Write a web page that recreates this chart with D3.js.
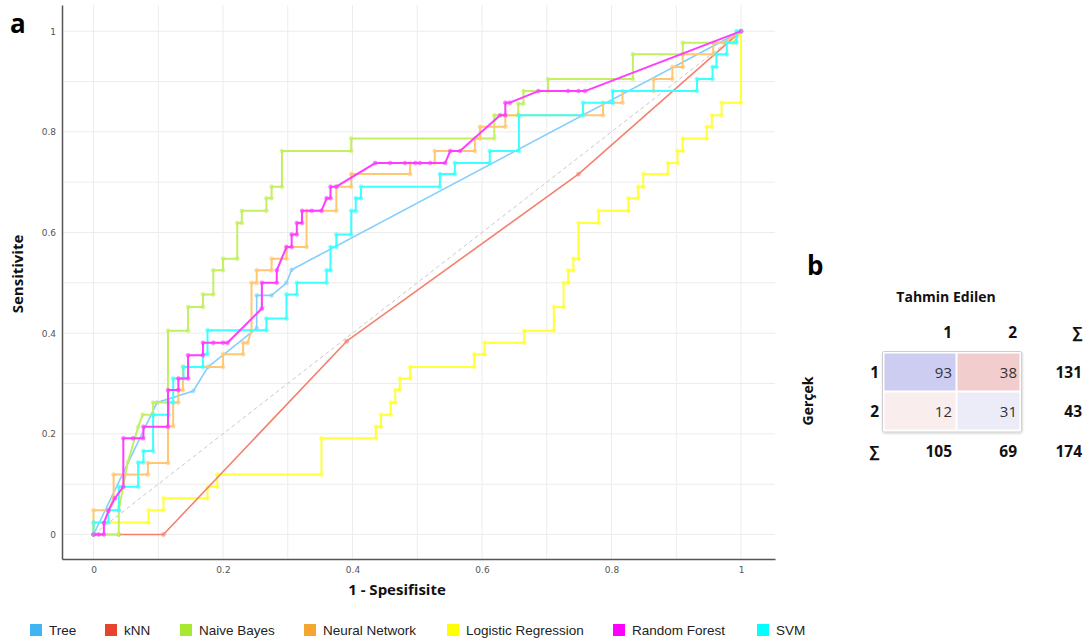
<!DOCTYPE html>
<html>
<head>
<meta charset="utf-8">
<script src="https://cdn.jsdelivr.net/npm/d3@7"></script>
<style>
  body { margin: 0; background: #ffffff; }
  svg { display: block; }
</style>
</head>
<body>
<svg id="chart" width="1089" height="644"></svg>
<script>
// ROC curves, [1 - specificity, sensitivity] per model
const treeRoc = [[0,0],[0.098,0.262],[0.154,0.285],[0.177,0.333],[0.252,0.41],[0.252,0.475],[0.275,0.475],[0.298,0.5],[0.306,0.526],[1,1]];

const knnRoc = [[0,0],[0.039,0],[0.108,0],[0.391,0.384],[0.749,0.716],[1,1]];

const naiveBayesRoc = [[0,0],[0.039,0],[0.039,0.048],[0.053,0.144],[0.069,0.214],[0.076,0.238],[0.092,0.238],[0.092,0.262],
  [0.115,0.262],[0.115,0.405],[0.146,0.405],[0.146,0.452],[0.169,0.452],[0.169,0.477],[0.185,0.477],[0.185,0.525],
  [0.2,0.525],[0.2,0.548],[0.222,0.548],[0.222,0.619],[0.229,0.619],[0.229,0.643],[0.267,0.643],[0.267,0.668],
  [0.275,0.668],[0.275,0.691],[0.291,0.691],[0.291,0.762],[0.398,0.762],[0.398,0.787],[0.619,0.787],[0.619,0.833],
  [0.656,0.833],[0.656,0.856],[0.664,0.856],[0.664,0.881],[0.702,0.881],[0.702,0.905],[0.833,0.905],[0.833,0.954],
  [0.91,0.954],[0.91,0.977],[0.988,0.977],[1,1]];

const neuralNetRoc = [[0,0],[0,0.048],[0.023,0.048],[0.031,0.072],[0.031,0.119],[0.084,0.119],[0.084,0.142],[0.115,0.142],
  [0.115,0.215],[0.123,0.215],[0.123,0.262],[0.131,0.262],[0.131,0.287],[0.138,0.287],[0.138,0.333],[0.2,0.333],
  [0.2,0.358],[0.231,0.358],[0.231,0.381],[0.238,0.381],[0.244,0.405],[0.244,0.5],[0.252,0.5],[0.252,0.525],
  [0.275,0.525],[0.275,0.548],[0.298,0.548],[0.298,0.571],[0.329,0.571],[0.329,0.643],[0.375,0.643],[0.375,0.691],
  [0.398,0.691],[0.398,0.716],[0.489,0.716],[0.489,0.738],[0.527,0.738],[0.527,0.762],[0.589,0.762],[0.589,0.787],
  [0.597,0.787],[0.597,0.81],[0.636,0.81],[0.636,0.833],[0.787,0.833],[0.787,0.858],[0.817,0.858],[0.817,0.881],
  [0.865,0.881],[0.865,0.905],[0.894,0.905],[0.894,0.929],[0.91,0.929],[0.91,0.954],[0.957,0.954],[0.957,0.977],
  [0.973,0.977],[1,1]];

const logisticRoc = [[0,0],[0,0.024],[0.085,0.024],[0.085,0.048],[0.108,0.048],[0.108,0.072],[0.176,0.072],[0.176,0.095],
  [0.191,0.095],[0.191,0.119],[0.352,0.119],[0.352,0.191],[0.436,0.191],[0.436,0.214],[0.444,0.214],[0.444,0.238],
  [0.459,0.238],[0.459,0.262],[0.466,0.262],[0.466,0.287],[0.473,0.287],[0.473,0.31],[0.489,0.31],[0.489,0.333],
  [0.588,0.333],[0.588,0.358],[0.604,0.358],[0.604,0.381],[0.665,0.381],[0.665,0.405],[0.711,0.405],[0.711,0.452],
  [0.726,0.452],[0.726,0.5],[0.733,0.5],[0.733,0.525],[0.741,0.525],[0.741,0.548],[0.749,0.548],[0.749,0.619],
  [0.78,0.619],[0.78,0.643],[0.826,0.643],[0.826,0.668],[0.841,0.668],[0.841,0.691],[0.849,0.691],[0.849,0.716],
  [0.887,0.716],[0.887,0.738],[0.902,0.738],[0.902,0.762],[0.91,0.762],[0.91,0.787],[0.947,0.787],[0.947,0.81],
  [0.955,0.81],[0.955,0.833],[0.97,0.833],[0.97,0.858],[1,0.858],[1,1]];

const randomForestRoc = [[0,0],[0.008,0],[0.016,0],[0.016,0.023],[0.023,0.047],[0.033,0.072],[0.046,0.095],[0.046,0.191],
  [0.061,0.191],[0.077,0.191],[0.077,0.214],[0.115,0.214],[0.115,0.287],[0.131,0.287],[0.131,0.31],[0.146,0.31],
  [0.146,0.356],[0.169,0.356],[0.169,0.381],[0.185,0.381],[0.2,0.381],[0.207,0.381],[0.26,0.449],[0.26,0.5],
  [0.283,0.5],[0.283,0.525],[0.298,0.571],[0.306,0.571],[0.306,0.596],[0.314,0.596],[0.314,0.619],[0.322,0.619],
  [0.322,0.643],[0.337,0.643],[0.352,0.643],[0.36,0.668],[0.366,0.668],[0.366,0.691],[0.375,0.691],[0.435,0.738],
  [0.458,0.738],[0.481,0.738],[0.497,0.738],[0.504,0.738],[0.52,0.738],[0.543,0.738],[0.551,0.762],[0.566,0.762],
  [0.628,0.833],[0.636,0.833],[0.636,0.858],[0.643,0.858],[0.687,0.881],[0.733,0.881],[0.749,0.881],[0.759,0.881],[1,1]];

const svmRoc = [[0,0],[0,0.024],[0.023,0.024],[0.023,0.048],[0.039,0.048],[0.039,0.095],[0.069,0.095],[0.069,0.143],
  [0.077,0.143],[0.077,0.166],[0.092,0.166],[0.092,0.238],[0.116,0.238],[0.116,0.262],[0.123,0.262],[0.123,0.31],
  [0.139,0.31],[0.139,0.333],[0.169,0.333],[0.169,0.358],[0.176,0.358],[0.176,0.406],[0.267,0.406],[0.267,0.429],
  [0.298,0.429],[0.298,0.477],[0.314,0.477],[0.314,0.5],[0.36,0.5],[0.36,0.525],[0.366,0.525],[0.366,0.571],
  [0.375,0.571],[0.375,0.596],[0.398,0.596],[0.398,0.643],[0.405,0.643],[0.405,0.668],[0.413,0.668],[0.413,0.691],
  [0.535,0.691],[0.535,0.716],[0.558,0.716],[0.558,0.738],[0.612,0.738],[0.612,0.762],[0.657,0.762],[0.657,0.833],
  [0.756,0.833],[0.756,0.858],[0.802,0.858],[0.802,0.881],[0.932,0.881],[0.932,0.905],[0.956,0.905],[0.956,0.929],
  [0.962,0.929],[0.962,0.954],[0.978,0.954],[0.978,0.977],[0.993,0.977],[0.993,1],[1,1]];

const modelNames = ["Tree", "kNN", "Naive Bayes", "Neural Network", "Logistic Regression", "Random Forest", "SVM"];
const modelCurves = [treeRoc, knnRoc, naiveBayesRoc, neuralNetRoc, logisticRoc, randomForestRoc, svmRoc];
const axisTicks = [0, 0.2, 0.4, 0.6, 0.8, 1];
const gridTicks = [0, 0.1, 0.2, 0.3, 0.4, 0.5, 0.6, 0.7, 0.8, 0.9, 1];

// confusion matrix (rows: actual, columns: predicted)
const classLabels = ["1", "2"];
const matrixCounts = [[93, 38], [12, 31]];
const rowTotals = [131, 43];
const colTotals = [105, 69];
const grandTotal = 174;

// ---- styling ----
const legendColors = ["#3fb5f3", "#e8432f", "#a9e831", "#f5a630", "#ffff00", "#ff00ff", "#00ffff"];
const lineColors   = ["#84cffd", "#f5806e", "#c3ef62", "#ffc772", "#ffff3c", "#ff3cff", "#3cffff"];
const drawOrder = [4, 1, 0, 2, 3, 6, 5];
const legendX = [30, 105, 180, 304, 447, 613, 757];
const cellFills = [["#cdcdf2", "#f2cdcd"], ["#f9eded", "#ececf8"]];

const svg = d3.select("#chart");
const x = d3.scaleLinear().domain([-0.0487, 1.0525]).range([62, 775]);
const y = d3.scaleLinear().domain([-0.0487, 1.052]).range([559, 5]);

// grid
const grid = svg.append("g");
grid.selectAll("line.v").data(gridTicks).join("line")
  .attr("x1", d => x(d)).attr("x2", d => x(d))
  .attr("y1", y.range()[1]).attr("y2", y.range()[0])
  .attr("stroke", "#ececec").attr("stroke-width", 1);
grid.selectAll("line.h").data(gridTicks).join("line")
  .attr("y1", d => y(d)).attr("y2", d => y(d))
  .attr("x1", x.range()[0]).attr("x2", x.range()[1])
  .attr("stroke", "#ececec").attr("stroke-width", 1);

// chance diagonal
svg.append("line")
  .attr("x1", x(0)).attr("y1", y(0)).attr("x2", x(1)).attr("y2", y(1))
  .attr("stroke", "#c9c9c9").attr("stroke-width", 1).attr("stroke-dasharray", "4,3");

// axes
const xAxis = d3.axisBottom(x).tickValues(axisTicks).tickSize(0).tickPadding(8).tickFormat(d3.format("~g"));
const yAxis = d3.axisLeft(y).tickValues(axisTicks).tickSize(0).tickPadding(6).tickFormat(d3.format("~g"));
const gx = svg.append("g").attr("transform", `translate(0,${y.range()[0]})`).call(xAxis);
const gy = svg.append("g").attr("transform", `translate(${x.range()[0]},0)`).call(yAxis);
[gx, gy].forEach(g => {
  g.select(".domain").attr("stroke", "#555").attr("stroke-width", 1.5);
  g.selectAll("text").attr("fill", "#555").attr("font-family", "DejaVu Sans").attr("font-size", 9);
});

// ROC curves
const line = d3.line().x(d => x(d[0])).y(d => y(d[1]));
const curves = svg.append("g");
drawOrder.forEach(i => {
  const g = curves.append("g");
  g.append("path").datum(modelCurves[i])
    .attr("d", line).attr("fill", "none")
    .attr("stroke", lineColors[i]).attr("stroke-width", i === 0 || i === 1 ? 1.6 : 2)
    .attr("stroke-linejoin", "round");
  g.selectAll("circle").data(modelCurves[i]).join("circle")
    .attr("cx", d => x(d[0])).attr("cy", d => y(d[1])).attr("r", 2)
    .attr("fill", lineColors[i]).attr("fill-opacity", 0.55)
    .attr("stroke", lineColors[i]).attr("stroke-opacity", 0.5).attr("stroke-width", 0.8);
});

// panel letters and axis titles
const titleFont = "'Open Sans', 'DejaVu Sans', sans-serif";
svg.append("text").attr("x", 10).attr("y", 33).text("a")
  .attr("font-family", titleFont).attr("font-weight", "bold").attr("font-size", 26).attr("fill", "#000");
svg.append("text").attr("x", 397).attr("y", 595).attr("text-anchor", "middle").text("1 - Spesifisite")
  .attr("font-family", titleFont).attr("font-weight", "bold").attr("font-size", 15).attr("fill", "#111");
svg.append("text").attr("transform", "translate(23,274) rotate(-90)").attr("text-anchor", "middle").text("Sensitivite")
  .attr("font-family", titleFont).attr("font-weight", "bold").attr("font-size", 15).attr("fill", "#111");

// legend
const legend = svg.append("g");
modelNames.forEach((name, i) => {
  legend.append("rect").attr("x", legendX[i]).attr("y", 624).attr("width", 12).attr("height", 12)
    .attr("fill", legendColors[i]);
  legend.append("text").attr("x", legendX[i] + 19).attr("y", 635).text(name)
    .attr("font-family", "'Liberation Sans', Arial, sans-serif").attr("font-size", 13.5).attr("fill", "#222");
});

// ---- confusion matrix ----
const cm = svg.append("g").attr("font-family", titleFont);
cm.append("text").attr("x", 807).attr("y", 275).text("b")
  .attr("font-weight", "bold").attr("font-size", 26).attr("fill", "#000");
cm.append("text").attr("x", 946).attr("y", 302).attr("text-anchor", "middle").text("Tahmin Edilen")
  .attr("font-weight", "bold").attr("font-size", 14).attr("fill", "#111");
cm.append("text").attr("transform", "translate(813,401) rotate(-90)").attr("text-anchor", "middle").text("Gerçek")
  .attr("font-weight", "bold").attr("font-size", 14).attr("fill", "#111");

const colRight = d3.scaleOrdinal().domain(["1", "2", "∑"]).range([952, 1017, 1082]);
const rowBase = d3.scaleOrdinal().domain(["1", "2", "∑"]).range([378, 417, 457]);
const cellX = d3.scaleOrdinal().domain(classLabels).range([884.5, 957.5]);
const cellW = d3.scaleOrdinal().domain(classLabels).range([71, 62]);
const cellY = d3.scaleOrdinal().domain(classLabels).range([353.5, 392.5]);

// frame with soft shadow
const defs = svg.append("defs");
const f = defs.append("filter").attr("id", "cmShadow").attr("x", "-10%").attr("y", "-10%").attr("width", "120%").attr("height", "120%");
f.append("feDropShadow").attr("dx", 0.5).attr("dy", 1).attr("stdDeviation", 1).attr("flood-color", "#000").attr("flood-opacity", 0.18);
cm.append("rect").attr("x", 882.5).attr("y", 351.5).attr("width", 139).attr("height", 80.5)
  .attr("fill", "#fff").attr("stroke", "#cfcfcf").attr("stroke-width", 1).attr("rx", 1.5)
  .attr("filter", "url(#cmShadow)");

classLabels.forEach((r, ri) => {
  classLabels.forEach((c, ci) => {
    cm.append("rect").attr("x", cellX(c)).attr("y", cellY(r)).attr("width", cellW(c)).attr("height", 37)
      .attr("fill", cellFills[ri][ci]);
    cm.append("text").attr("x", colRight(c)).attr("y", rowBase(r)).attr("text-anchor", "end")
      .text(matrixCounts[ri][ci]).attr("font-size", 15).attr("fill", "#333");
  });
});

const bold = (txt, xPos, yPos) => cm.append("text").attr("x", xPos).attr("y", yPos).attr("text-anchor", "end")
  .text(txt).attr("font-weight", "bold").attr("font-size", 15.5).attr("fill", "#111");

// column headers
classLabels.concat(["∑"]).forEach(c => bold(c, colRight(c), 338));
// row headers + row totals
classLabels.forEach((r, ri) => {
  bold(r, 879, rowBase(r));
  bold(rowTotals[ri], colRight("∑"), rowBase(r));
});
// bottom totals
bold("∑", 879, rowBase("∑"));
classLabels.forEach((c, ci) => bold(colTotals[ci], colRight(c), rowBase("∑")));
bold(grandTotal, colRight("∑"), rowBase("∑"));
</script>
</body>
</html>
